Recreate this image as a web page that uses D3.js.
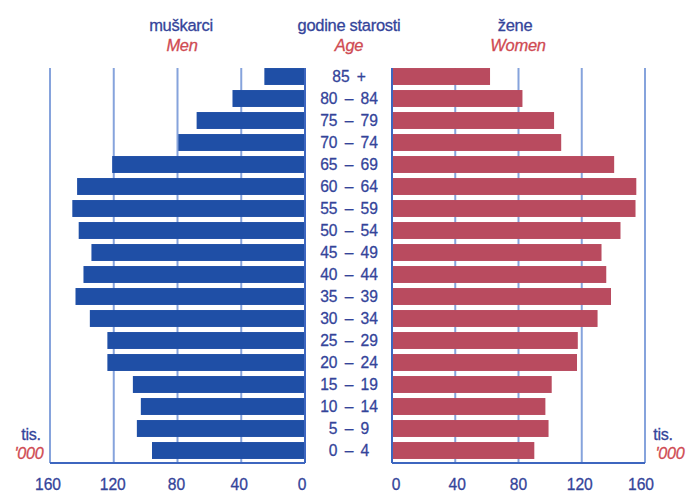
<!DOCTYPE html>
<html>
<head>
<meta charset="utf-8">
<script src="https://cdn.jsdelivr.net/npm/d3@7/dist/d3.min.js"></script>
<style>
  html, body { margin: 0; padding: 0; background: #fff; }
  svg { display: block; font-family: "Liberation Sans", Arial, sans-serif; }
</style>
</head>
<body>
<svg id="chart" width="686" height="494"></svg>
<script>
// ---- data (thousands) ----
const ageGroups = ["85 +", "80 – 84", "75 – 79", "70 – 74", "65 – 69", "60 – 64", "55 – 59",
  "50 – 54", "45 – 49", "40 – 44", "35 – 39", "30 – 34", "25 – 29", "20 – 24",
  "15 – 19", "10 – 14", "5 – 9", "0 – 4"];
const men = [25.5, 45.5, 68, 79.5, 121, 143, 146, 142, 134, 139, 144, 135, 124, 124, 108, 103, 105.5, 96];
const women = [62, 82.5, 102.5, 107, 140.5, 154.5, 154, 144.5, 132.5, 135.5, 138.5, 130, 117.5, 117, 101, 97, 99, 90];
const ticks = [0, 40, 80, 120, 160];

const navy = "#34449a";
const red = "#cf4a52";
const menColor = "#1f4fa6";
const womenColor = "#b94b5f";
const gridColor = "#86a3dc";
const axisColor = "#3d66bf";

const svg = d3.select("#chart");

const xL = d3.scaleLinear().domain([0, 160]).range([305, 50]);
const xR = d3.scaleLinear().domain([0, 160]).range([392, 645]);
const y = d3.scaleBand().domain(ageGroups).range([65.5, 461.5]).paddingInner(0.23).paddingOuter(0.115);

const yTop = 68, yBottom = 463;

// gridlines
const grid = svg.append("g");
[40, 80, 120, 160].forEach(t => {
  grid.append("line").attr("x1", xL(t)).attr("x2", xL(t)).attr("y1", yTop).attr("y2", yBottom)
    .attr("stroke", gridColor).attr("stroke-width", 2);
  grid.append("line").attr("x1", xR(t)).attr("x2", xR(t)).attr("y1", yTop).attr("y2", yBottom)
    .attr("stroke", gridColor).attr("stroke-width", 2);
});

// bars
svg.append("g").selectAll("rect").data(ageGroups).join("rect")
  .attr("x", (d, i) => xL(men[i]))
  .attr("y", d => y(d))
  .attr("width", (d, i) => xL(0) - xL(men[i]))
  .attr("height", y.bandwidth())
  .attr("fill", menColor);

svg.append("g").selectAll("rect").data(ageGroups).join("rect")
  .attr("x", xR(0))
  .attr("y", d => y(d))
  .attr("width", (d, i) => xR(women[i]) - xR(0))
  .attr("height", y.bandwidth())
  .attr("fill", womenColor);

// axis frames
const ax = svg.append("g").attr("fill", "none").attr("stroke", axisColor).attr("stroke-width", 2);
ax.append("line").attr("x1", xL(160)).attr("x2", xL(0)).attr("y1", yBottom).attr("y2", yBottom);
ax.append("line").attr("x1", xL(0)).attr("x2", xL(0)).attr("y1", yTop).attr("y2", yBottom);
ax.append("line").attr("x1", xR(0)).attr("x2", xR(160)).attr("y1", yBottom).attr("y2", yBottom);
ax.append("line").attr("x1", xR(0)).attr("x2", xR(0)).attr("y1", yTop).attr("y2", yBottom);

// helper: horizontally condensed text
function sx(sel, xf, k) {
  sel.attr("x", xf).attr("transform", (d, i) => { const xx = xf(d, i); return `translate(${xx},0) scale(${k},1) translate(${-xx},0)`; });
}

// tick labels
const tickG = svg.append("g").attr("fill", navy).attr("stroke", navy).attr("stroke-width", 0.3)
  .attr("font-size", 17).attr("text-anchor", "middle");
const lOff = {0: -3, 40: -2, 80: -1, 120: -1, 160: -2};
const rOff = {0: 4, 40: 2, 80: 0, 120: -2, 160: -4};
tickG.selectAll("text.l").data(ticks).join("text").attr("class", "l")
  .attr("y", 490).call(sx, d => xL(d) + lOff[d], 0.92).text(d => d);
tickG.selectAll("text.r").data(ticks).join("text").attr("class", "r")
  .attr("y", 490).call(sx, d => xR(d) + rOff[d], 0.92).text(d => d);

// age labels
svg.append("g").attr("fill", navy).attr("stroke", navy).attr("stroke-width", 0.3)
  .attr("font-size", 17).attr("text-anchor", "middle").attr("word-spacing", 3)
  .selectAll("text").data(ageGroups).join("text")
  .attr("y", d => y(d) + y.bandwidth() / 2 + 6)
  .call(sx, () => 349, 0.92)
  .text(d => d);

// headers
function label(x, yy, txt, color, italic, size, k) {
  svg.append("text").attr("x", x).attr("y", yy).attr("fill", color)
    .attr("stroke", color).attr("stroke-width", 0.3)
    .attr("font-size", size).attr("text-anchor", "middle")
    .attr("font-style", italic ? "italic" : "normal")
    .attr("transform", `translate(${x},0) scale(${k},1) translate(${-x},0)`)
    .attr("letter-spacing", -0.3)
    .text(txt);
}
label(181, 31, "muškarci", navy, false, 17, 0.97);
label(182, 51, "Men", red, true, 17, 0.97);
label(349, 31, "godine starosti", navy, false, 17, 0.97);
label(349, 51, "Age", red, true, 17, 0.97);
label(515, 31, "žene", navy, false, 17, 0.97);
label(518, 51, "Women", red, true, 17, 0.97);

label(31, 440, "tis.", navy, false, 17, 0.95);
label(29, 459, "'000", red, true, 17, 0.95);
label(663, 440, "tis.", navy, false, 17, 0.95);
label(670, 459, "'000", red, true, 17, 0.95);
</script>
</body>
</html>
